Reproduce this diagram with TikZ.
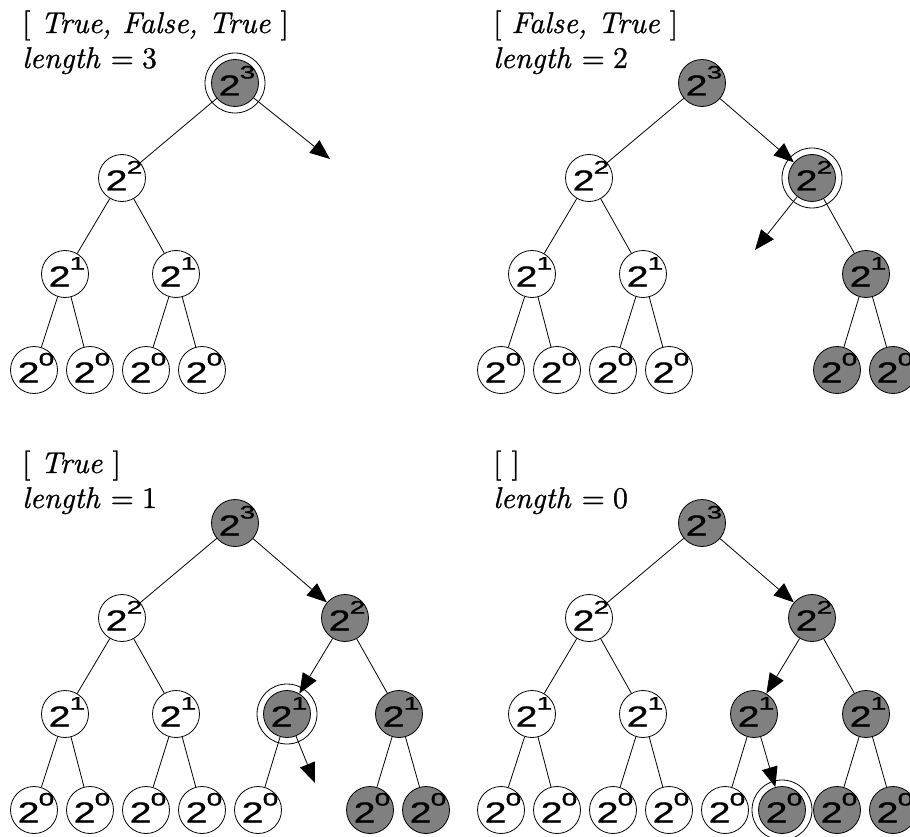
\documentclass[tikz,border=0pt]{standalone}
\usepackage{fontspec}
\usetikzlibrary{arrows.meta}
\newfontfamily\nodefont{Liberation Sans}[FakeBold=0.6]
\newfontfamily\supfont{Liberation Sans}[FakeBold=1.2]
\newfontfamily\lblfont{lmroman10-regular.otf}[ItalicFont=lmroman10-italic.otf, FakeBold=0.8]
\definecolor{ngray}{RGB}{128,128,128}
\newcommand\pw[1]{\raisebox{0pt}[25pt][0pt]{\makebox[0pt][c]{\kern4pt\scalebox{1.35}[1]{\fontsize{29}{29}\selectfont 2}\kern-0.8pt\raisebox{17pt}{\scalebox{1.55}[1]{\supfont\fontsize{18}{18}\selectfont #1}}}}}
\newcommand\lenlbl[1]{{\itshape length}\kern11pt=\kern8pt#1}
\tikzset{
  wn/.style={circle, draw, line width=0.8pt, minimum size=47pt, inner sep=0pt, fill=white, font=\nodefont},
  gn/.style={wn, fill=ngray},
  ringc/.style={draw, line width=0.8pt},
  edge/.style={line width=0.8pt},
  arr/.style={edge, -{Triangle[length=20pt,width=16pt]}},
  lbl/.style={anchor=base west, inner sep=0pt, font=\lblfont\fontsize{30}{30}\selectfont},
}
\begin{document}
\begin{tikzpicture}[x=1pt,y=-1pt]
\clip (0,0) rectangle (910,837);
% ---------------- panel 1 ----------------
\node[lbl] (t1a) at (22,33) {[ \textit{True, False, True} ]};
\node[lbl] (t1b) at (22,68) {\lenlbl{3}};
\begin{scope}[shift={(235,83)}]
  \node[gn] (a-r) at (0,0) {\pw3};
  \node[wn] (a-L) at (-113,95) {\pw2};
  \node[wn] (a-LL) at (-170,191) {\pw1};
  \node[wn] (a-LR) at (-59,191) {\pw1};
  \node[wn] (a-LLL) at (-201,287) {\pw0};
  \node[wn] (a-LLR) at (-145,287) {\pw0};
  \node[wn] (a-LRL) at (-89,287) {\pw0};
  \node[wn] (a-LRR) at (-33,287) {\pw0};
  \coordinate (a-tip) at (95,76);
  \draw[ringc] (a-r.center) circle[radius=30pt];
  \draw[edge] (a-r) -- (a-L);
  \draw[edge] (a-L) -- (a-LL);
  \draw[edge] (a-L) -- (a-LR);
  \draw[edge] (a-LL) -- (a-LLL);
  \draw[edge] (a-LL) -- (a-LLR);
  \draw[edge] (a-LR) -- (a-LRL);
  \draw[edge] (a-LR) -- (a-LRR);
  \draw[arr] (a-r) -- (a-tip);
\end{scope}
% ---------------- panel 2 ----------------
\node[lbl] (t2a) at (493,33) {[ \textit{False, True} ]};
\node[lbl] (t2b) at (493,68) {\lenlbl{2}};
\begin{scope}[shift={(702,83)}]
  \node[gn] (b-r) at (0,0) {\pw3};
  \node[wn] (b-L) at (-113,95) {\pw2};
  \node[gn] (b-R) at (110,95) {\pw2};
  \node[wn] (b-LL) at (-170,191) {\pw1};
  \node[wn] (b-LR) at (-59,191) {\pw1};
  \node[gn] (b-RR) at (164,191) {\pw1};
  \node[wn] (b-LLL) at (-201,287) {\pw0};
  \node[wn] (b-LLR) at (-145,287) {\pw0};
  \node[wn] (b-LRL) at (-89,287) {\pw0};
  \node[wn] (b-LRR) at (-33,287) {\pw0};
  \node[gn] (b-RRL) at (135,287) {\pw0};
  \node[gn] (b-RRR) at (191,287) {\pw0};
  \coordinate (b-tip) at (53,167);
  \draw[ringc] (b-R.center) circle[radius=30pt];
  \draw[edge] (b-r) -- (b-L);
  \draw[edge] (b-L) -- (b-LL);
  \draw[edge] (b-L) -- (b-LR);
  \draw[edge] (b-LL) -- (b-LLL);
  \draw[edge] (b-LL) -- (b-LLR);
  \draw[edge] (b-LR) -- (b-LRL);
  \draw[edge] (b-LR) -- (b-LRR);
  \draw[edge] (b-R) -- (b-RR);
  \draw[edge] (b-RR) -- (b-RRL);
  \draw[edge] (b-RR) -- (b-RRR);
  \draw[arr] (b-r) -- (b-R);
  \draw[arr] (b-R) -- (b-tip);
\end{scope}
% ---------------- panel 3 ----------------
\node[lbl] (t3a) at (22,473) {[ \textit{True} ]};
\node[lbl] (t3b) at (22,508) {\lenlbl{1}};
\begin{scope}[shift={(235,523)}]
  \node[gn] (c-r) at (0,0) {\pw3};
  \node[wn] (c-L) at (-113,95) {\pw2};
  \node[gn] (c-R) at (110,95) {\pw2};
  \node[wn] (c-LL) at (-170,191) {\pw1};
  \node[wn] (c-LR) at (-59,191) {\pw1};
  \node[gn] (c-RL) at (52,191) {\pw1};
  \node[gn] (c-RR) at (164,191) {\pw1};
  \node[wn] (c-LLL) at (-201,287) {\pw0};
  \node[wn] (c-LLR) at (-145,287) {\pw0};
  \node[wn] (c-LRL) at (-89,287) {\pw0};
  \node[wn] (c-LRR) at (-33,287) {\pw0};
  \node[wn] (c-RLL) at (23,287) {\pw0};
  \node[gn] (c-RRL) at (135,287) {\pw0};
  \node[gn] (c-RRR) at (191,287) {\pw0};
  \coordinate (c-tip) at (80,260);
  \draw[ringc] (c-RL.center) circle[radius=30pt];
  \draw[edge] (c-r) -- (c-L);
  \draw[edge] (c-L) -- (c-LL);
  \draw[edge] (c-L) -- (c-LR);
  \draw[edge] (c-LL) -- (c-LLL);
  \draw[edge] (c-LL) -- (c-LLR);
  \draw[edge] (c-LR) -- (c-LRL);
  \draw[edge] (c-LR) -- (c-LRR);
  \draw[edge] (c-R) -- (c-RR);
  \draw[edge] (c-RL) -- (c-RLL);
  \draw[edge] (c-RR) -- (c-RRL);
  \draw[edge] (c-RR) -- (c-RRR);
  \draw[arr] (c-r) -- (c-R);
  \draw[arr] (c-R) -- (c-RL);
  \draw[arr] (c-RL) -- (c-tip);
\end{scope}
% ---------------- panel 4 ----------------
\node[lbl] (t4a) at (493,473) {[ ]};
\node[lbl] (t4b) at (493,508) {\lenlbl{0}};
\begin{scope}[shift={(702,523)}]
  \node[gn] (d-r) at (0,0) {\pw3};
  \node[wn] (d-L) at (-113,95) {\pw2};
  \node[gn] (d-R) at (110,95) {\pw2};
  \node[wn] (d-LL) at (-170,191) {\pw1};
  \node[wn] (d-LR) at (-59,191) {\pw1};
  \node[gn] (d-RL) at (52,191) {\pw1};
  \node[gn] (d-RR) at (164,191) {\pw1};
  \node[wn] (d-LLL) at (-201,287) {\pw0};
  \node[wn] (d-LLR) at (-145,287) {\pw0};
  \node[wn] (d-LRL) at (-89,287) {\pw0};
  \node[wn] (d-LRR) at (-33,287) {\pw0};
  \node[wn] (d-RLL) at (23,287) {\pw0};
  \node[gn] (d-RLR) at (80,287) {\pw0};
  \node[gn] (d-RRL) at (135,287) {\pw0};
  \node[gn] (d-RRR) at (191,287) {\pw0};
  \draw[ringc] (d-RLR.center) circle[radius=30pt];
  \draw[edge] (d-r) -- (d-L);
  \draw[edge] (d-L) -- (d-LL);
  \draw[edge] (d-L) -- (d-LR);
  \draw[edge] (d-LL) -- (d-LLL);
  \draw[edge] (d-LL) -- (d-LLR);
  \draw[edge] (d-LR) -- (d-LRL);
  \draw[edge] (d-LR) -- (d-LRR);
  \draw[edge] (d-R) -- (d-RR);
  \draw[edge] (d-RL) -- (d-RLL);
  \draw[edge] (d-RR) -- (d-RRL);
  \draw[edge] (d-RR) -- (d-RRR);
  \draw[arr] (d-r) -- (d-R);
  \draw[arr] (d-R) -- (d-RL);
  \draw[arr] (d-RL) -- (d-RLR);
\end{scope}
\end{tikzpicture}
\end{document}
